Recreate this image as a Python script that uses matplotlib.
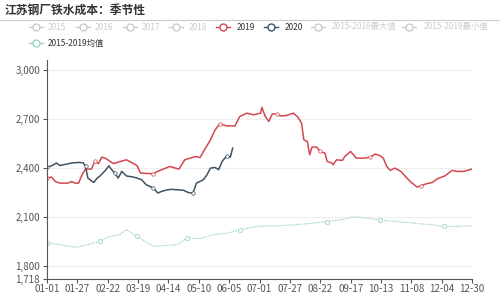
import matplotlib.pyplot as plt
import matplotlib.lines as mlines
import pandas as pd

plt.rcParams['font.family'] = ['Noto Sans CJK SC', 'DejaVu Sans']

# day offsets from 01-01 (leap-year calendar) and values
day_2019 = [0, 4, 7, 11, 18, 21, 24, 27, 30, 33, 38, 41, 44, 47, 51, 54, 57, 63, 68, 73,
            77, 80, 91, 95, 99, 105, 113, 118, 127, 131, 134, 140, 144, 148, 154, 161, 165,
            171, 177, 183, 184, 187, 190, 193, 197, 200, 205, 211, 215, 218, 220, 223, 225,
            227, 231, 234, 238, 240, 244, 245, 248, 253, 255, 260, 265, 271, 277, 281, 285,
            288, 291, 294, 298, 303, 307, 311, 317, 320, 325, 330, 334, 338, 341, 347, 351,
            357, 360, 364]
val_2019 = [2337, 2343, 2316, 2306, 2306, 2316, 2306, 2306, 2357, 2392, 2392, 2439, 2426,
            2466, 2455, 2439, 2426, 2439, 2449, 2430, 2414, 2368, 2363, 2379, 2390, 2408,
            2392, 2449, 2469, 2463, 2500, 2571, 2633, 2669, 2657, 2657, 2714, 2735, 2725,
            2735, 2771, 2714, 2684, 2730, 2730, 2718, 2720, 2735, 2710, 2674, 2571, 2561,
            2480, 2527, 2527, 2500, 2490, 2439, 2429, 2418, 2449, 2445, 2469, 2500, 2459,
            2459, 2465, 2484, 2475, 2459, 2408, 2384, 2398, 2378, 2347, 2316, 2282, 2290,
            2302, 2310, 2331, 2343, 2351, 2384, 2378, 2378, 2384, 2392]

day_2020 = [0, 4, 8, 11, 15, 21, 27, 31, 33, 35, 40, 43, 45, 50, 53, 55, 58, 61, 64, 68,
            74, 77, 81, 85, 91, 95, 98, 102, 106, 112, 117, 121, 125, 128, 134, 137, 140,
            144, 147, 150, 154, 157, 159]
val_2020 = [2404, 2412, 2429, 2414, 2420, 2429, 2433, 2431, 2408, 2337, 2310, 2337, 2347,
            2384, 2412, 2392, 2368, 2337, 2378, 2350, 2343, 2337, 2327, 2296, 2276, 2245,
            2255, 2263, 2268, 2265, 2262, 2248, 2245, 2306, 2327, 2357, 2398, 2402, 2388,
            2439, 2473, 2465, 2521]

day_mean = [0, 11, 25, 37, 45, 52, 62, 68, 77, 91, 104, 111, 120, 131, 142, 155, 165, 181,
            200, 220, 240, 255, 262, 270, 285, 300, 315, 330, 340, 350, 364]
val_mean = [1939, 1929, 1912, 1933, 1949, 1974, 1990, 2020, 1980, 1919, 1925, 1927, 1970,
            1966, 1990, 2000, 2020, 2041, 2045, 2055, 2070, 2085, 2100, 2095, 2080, 2070,
            2060, 2050, 2040, 2040, 2045]

y_ticks = [1718, 1800, 2100, 2400, 2700, 3000]
legend_names = ['2015', '2016', '2017', '2018', '2019', '2020',
                '2015-2019最大值', '2015-2019最小值', '2015-2019均值']

c19 = '#d2474f'
c20 = '#3f5260'
cmean = '#9fd5c4'
grey = '#cccccc'

W, H = 500, 295
fig = plt.figure(figsize=(W / 100, H / 100), dpi=100)
ax = fig.add_axes([47 / W, 1 - 279 / H, 425 / W, 219 / H])

ax.plot(day_mean, val_mean, color=cmean, lw=0.8, ls=(0, (1.5, 1)), marker='o', ms=3,
        mfc='white', mew=0.6, markevery=4)
ax.plot(day_2019, val_2019, color=c19, lw=1.1, marker='o', ms=2.5, mfc='white',
        mew=0.5, markevery=11)
ax.plot(day_2020, val_2020, color=c20, lw=1.1, marker='o', ms=2.5, mfc='white',
        mew=0.5, markevery=8)

dates = pd.date_range('2020-01-01', periods=365)
xt = list(range(0, 365, 26))
ax.set_xticks(xt)
ax.set_xticklabels(dates[xt].strftime('%m-%d'))
ax.set_xlim(0, 364)
ax.set_ylim(1718, 3061)
ax.set_yticks(y_ticks)
ax.set_yticklabels([f'{v:,}' for v in y_ticks])
ax.grid(axis='y', color='#eeeeee', lw=0.8)
ax.set_axisbelow(True)
for s in ['top', 'right']:
    ax.spines[s].set_visible(False)
for s in ['left', 'bottom']:
    ax.spines[s].set_color('#555555')
    ax.spines[s].set_linewidth(0.8)
ax.tick_params(colors='#555555', labelcolor='#555555', labelsize=7, length=3, width=0.8)
ax.tick_params(axis='x', pad=0.5)
ax.tick_params(axis='y', pad=2)

fig.text(5 / W, 1 - 10 / H, '江苏钢厂铁水成本：季节性', fontsize=8.5, fontweight='bold',
         color='#333333', va='center')
fig.add_artist(mlines.Line2D([0, 1], [1 - 19.5 / H] * 2, color='#cccccc', lw=0.8))

# legend drawn by hand: marker centre x, text x, row y
leg_pos = [(36, 48, 27), (83, 95, 27), (130, 142, 27), (176, 189, 27), (223, 237, 27),
           (271, 285, 27), (318, 332, 27), (409, 424, 27), (36, 48, 43)]
leg_col = [grey, grey, grey, grey, c19, c20, grey, grey, cmean]
for name, (cx, tx, ry), col in zip(legend_names, leg_pos, leg_col):
    y = 1 - ry / H
    fig.add_artist(mlines.Line2D([(cx - 7) / W, (cx + 7) / W], [y, y], color=col, lw=1))
    fig.add_artist(mlines.Line2D([cx / W], [y], color=col, marker='o', ms=5,
                                 mfc='white', mew=1))
    tcol = grey if col == grey else '#333333'
    fig.text(tx / W, y, name, fontsize=6, color=tcol, va='center')

fig.savefig('out.png', dpi=100)
